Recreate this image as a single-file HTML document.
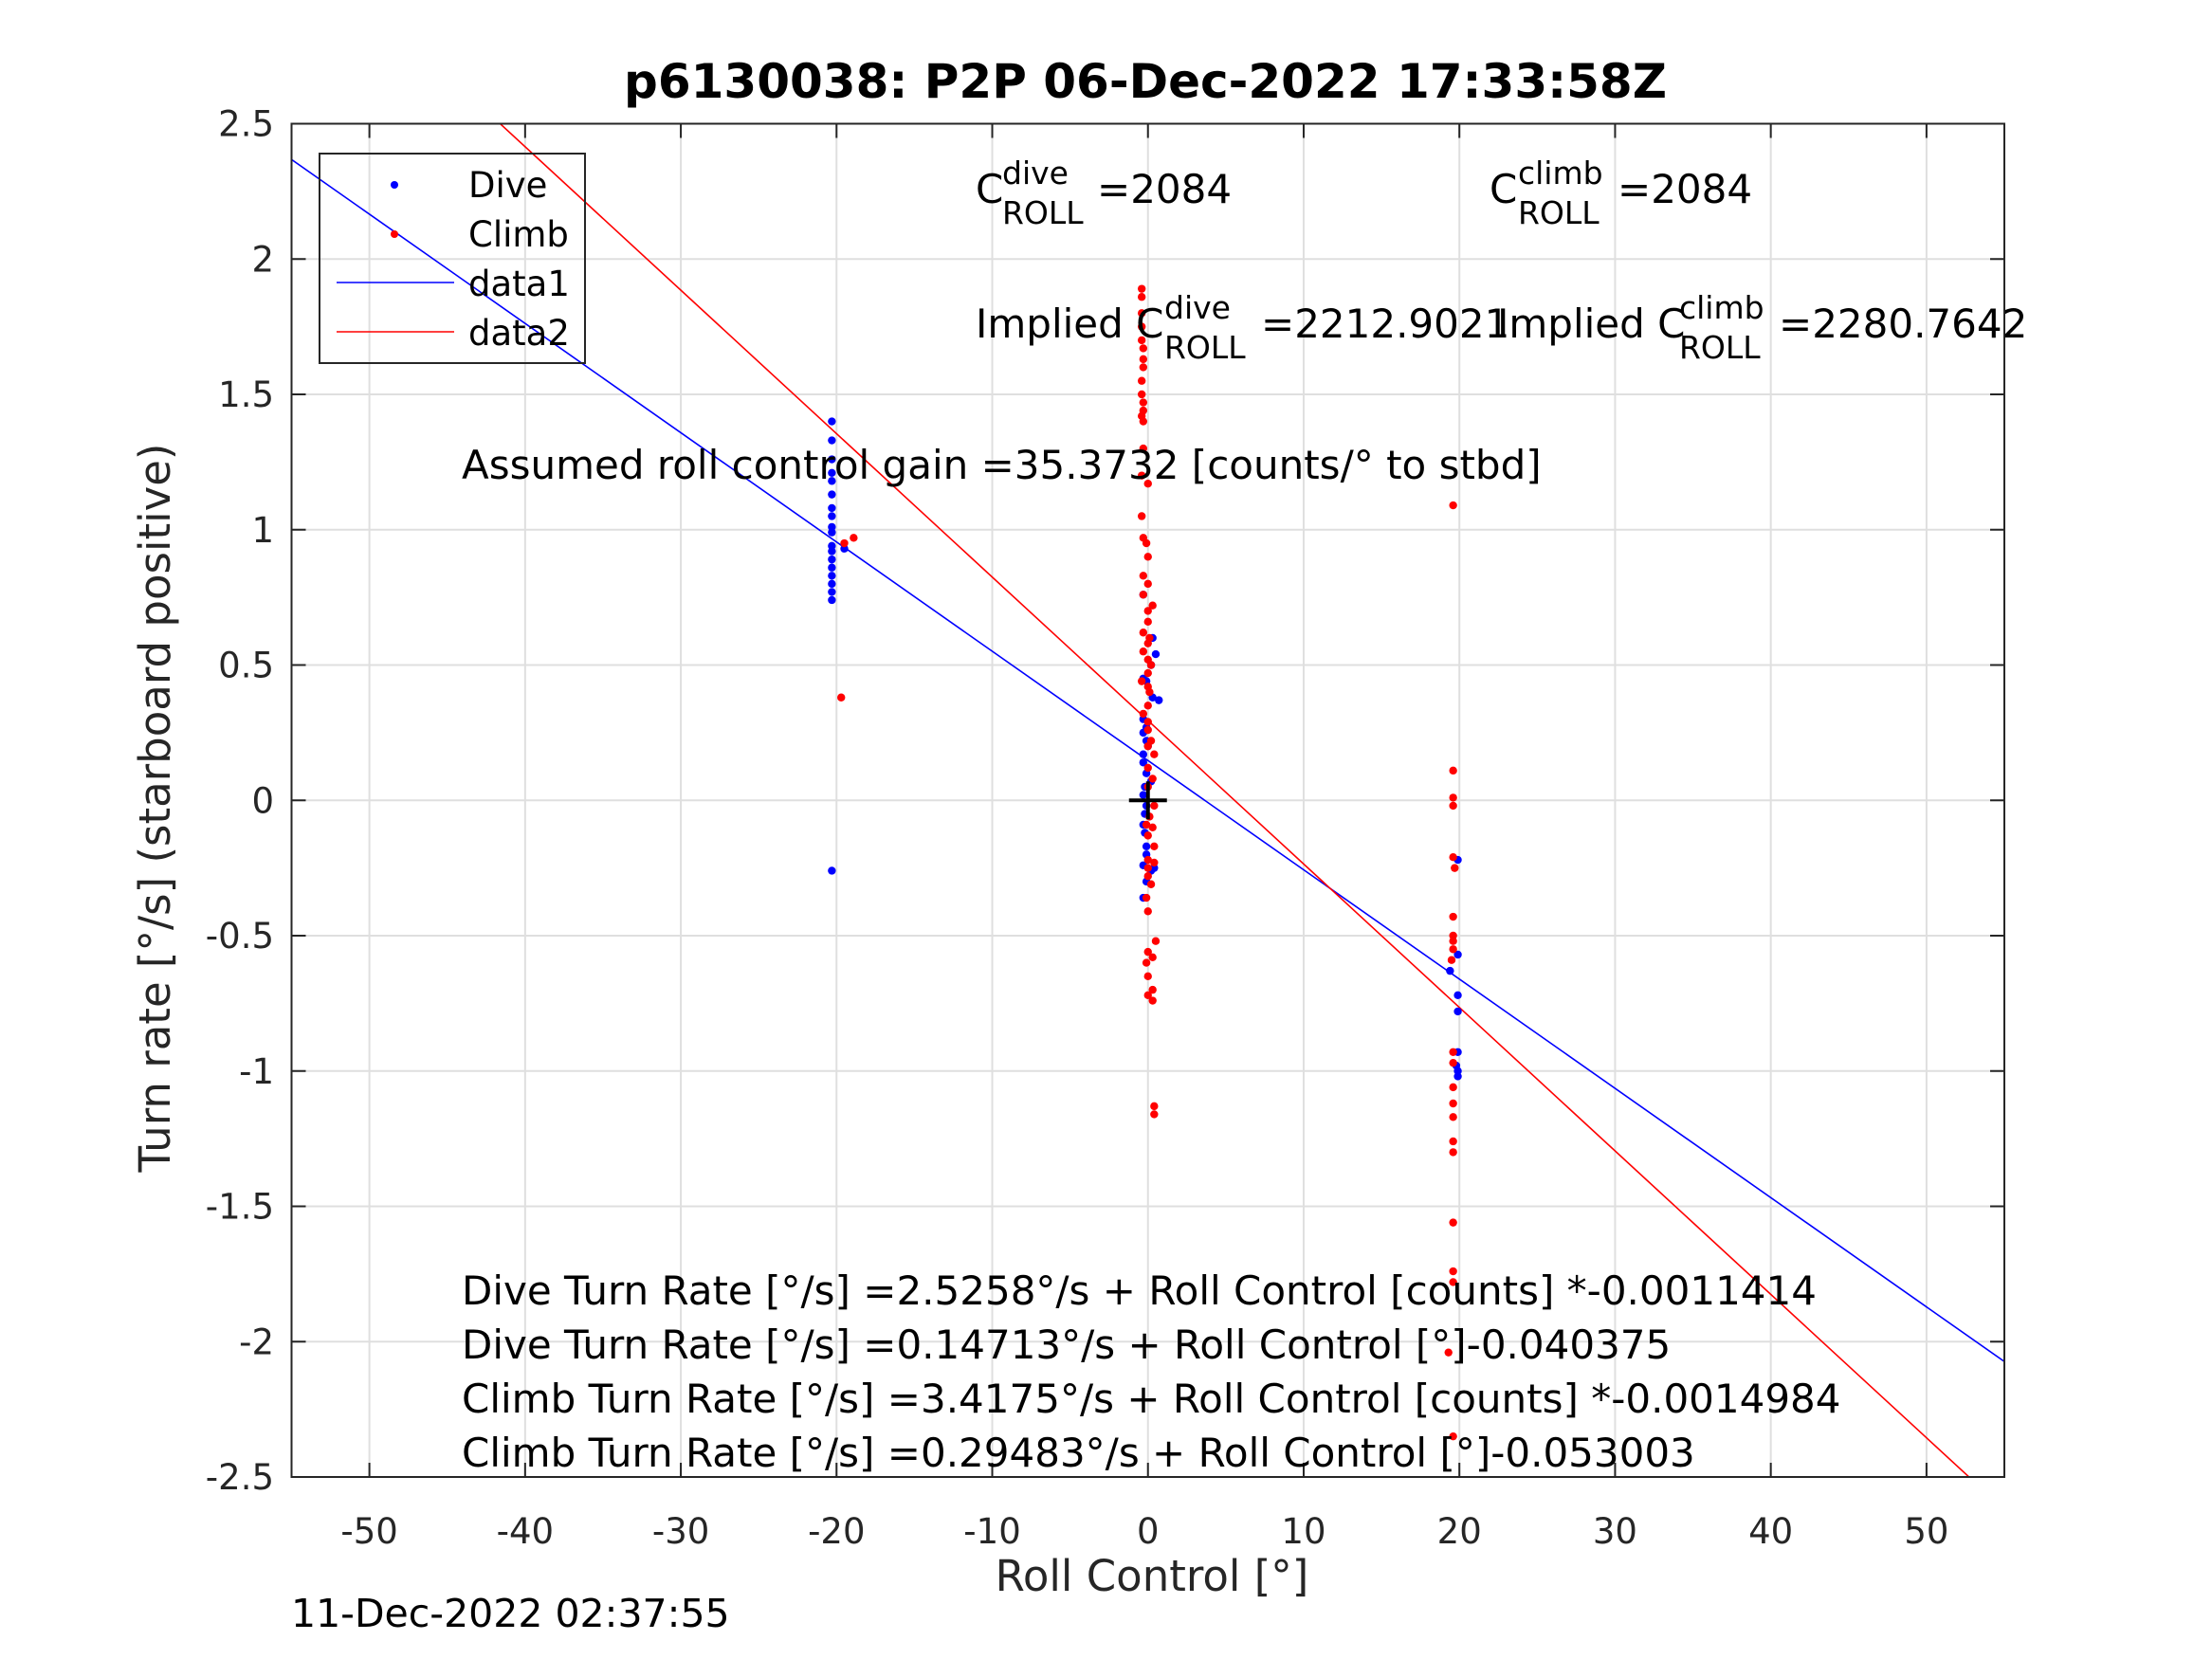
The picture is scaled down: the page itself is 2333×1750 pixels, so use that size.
<!DOCTYPE html>
<html><head><meta charset="utf-8"><style>
html,body{margin:0;padding:0;background:#fff}
svg{display:block;font-family:"DejaVu Sans","Liberation Sans",sans-serif}
</style></head><body>
<svg id="chart" width="2333" height="1750" viewBox="0 0 2333 1750" xmlns="http://www.w3.org/2000/svg">
<rect width="2333" height="1750" fill="#fff"/>
<rect x="307.5" y="130.5" width="1806.5" height="1427.5" fill="#fff"/>
<g id="grid"></g>
<g id="lines"></g>
<g id="pts"></g>
<g id="axes"></g>
<text x="1208" y="103" font-size="50" font-weight="bold" text-anchor="middle">p6130038: P2P 06-Dec-2022 17:33:58Z</text>
<text x="1215" y="1678" font-size="45" text-anchor="middle" fill="#262626">Roll Control [°]</text>
<text transform="translate(179,852) rotate(-90)" font-size="45" text-anchor="middle" fill="#262626">Turn rate [°/s] (starboard positive)</text>
<text x="307" y="1716" font-size="41">11-Dec-2022 02:37:55</text>
<g font-size="42">
<text x="1029" y="214">C</text><text x="1057" y="194" font-size="33">dive</text><text x="1057" y="236" font-size="33">ROLL</text><text x="1157" y="214">=2084</text>
<text x="1571" y="214">C</text><text x="1601" y="194" font-size="33">climb</text><text x="1601" y="236" font-size="33">ROLL</text><text x="1706" y="214">=2084</text>
<text x="1029" y="356">Implied C</text><text x="1228" y="336" font-size="33">dive</text><text x="1228" y="378" font-size="33">ROLL</text><text x="1330" y="356">=2212.9021</text>
<text x="1579" y="356">Implied C</text><text x="1771" y="336" font-size="33">climb</text><text x="1771" y="378" font-size="33">ROLL</text><text x="1876" y="356">=2280.7642</text>
<text x="487" y="505">Assumed roll control gain =35.3732 [counts/° to stbd]</text>
<text x="487" y="1376">Dive Turn Rate [°/s] =2.5258°/s + Roll Control [counts] *-0.0011414</text>
<text x="487" y="1433">Dive Turn Rate [°/s] =0.14713°/s + Roll Control [°]-0.040375</text>
<text x="487" y="1490">Climb Turn Rate [°/s] =3.4175°/s + Roll Control [counts] *-0.0014984</text>
<text x="487" y="1547">Climb Turn Rate [°/s] =0.29483°/s + Roll Control [°]-0.053003</text>
</g>
<g>
<rect x="337" y="162" width="280" height="221" fill="none" stroke="#262626" stroke-width="2"/>
<circle cx="416" cy="195" r="4" fill="#00f"/>
<circle cx="416" cy="247" r="4" fill="#f00"/>
<line x1="355" y1="298" x2="479" y2="298" stroke="#00f" stroke-width="1.5"/>
<line x1="355" y1="350" x2="479" y2="350" stroke="#f00" stroke-width="1.5"/>
<g font-size="37"><text x="494" y="208">Dive</text><text x="494" y="260">Climb</text><text x="494" y="312">data1</text><text x="494" y="364">data2</text></g>
</g>
</svg>
<script>
const xTicks=[-50,-40,-30,-20,-10,0,10,20,30,40,50];
const yTicks=[-2.5,-2,-1.5,-1,-0.5,0,0.5,1,1.5,2,2.5];
const yTickLabels=["-2.5","-2","-1.5","-1","-0.5","0","0.5","1","1.5","2","2.5"];
const diveX=[-20.3,-20.3,-20.3,-20.3,-20.3,-20.3,-20.3,-20.3,-20.3,-20.3,-20.3,-20.3,-20.3,-20.3,-20.3,-20.3,-20.3,-20.3,-20.3,-19.5,
-0.3,0.5,0.3,0.2,-0.3,-0.1,0.3,0.7,-0.3,-0.1,-0.3,-0.1,0.0,-0.3,-0.3,-0.1,0.2,-0.2,-0.3,-0.1,-0.2,-0.3,-0.2,-0.1,-0.1,-0.3,0.2,0.4,-0.1,-0.3,
19.9,19.9,19.4,19.9,19.9,19.9,19.8,19.9,19.9];
const diveY=[1.40,1.33,1.26,1.21,1.18,1.13,1.08,1.05,1.01,0.99,0.94,0.92,0.89,0.86,0.83,0.80,0.77,0.74,-0.26,0.93,
0.76,0.54,0.60,0.50,0.45,0.44,0.38,0.37,0.30,0.27,0.25,0.22,0.20,0.17,0.14,0.10,0.07,0.05,0.02,-0.02,-0.05,-0.09,-0.12,-0.17,-0.20,-0.24,-0.26,-0.25,-0.30,-0.36,
-0.22,-0.57,-0.63,-0.72,-0.78,-0.93,-0.98,-1.00,-1.02];
const climbX=[-19.5,-18.9,-19.7,
-0.4,-0.4,-0.4,-0.4,-0.4,-0.3,-0.3,-0.3,-0.4,-0.4,-0.3,-0.3,-0.4,-0.3,-0.3,-0.4,0.0,-0.4,-0.3,-0.1,0.0,-0.3,0.0,-0.3,0.0,0.3,0.0,-0.3,0.0,0.1,-0.3,0.0,0.2,0.0,-0.4,0.0,0.1,0.0,-0.3,0.0,0.0,0.2,0.0,0.4,0.0,0.3,0.0,0.4,0.1,-0.1,0.3,0.0,0.4,0.0,0.0,0.4,0.0,0.2,-0.1,0.0,0.5,0.0,0.3,-0.1,0.0,0.3,0.0,0.3,0.4,0.4,
19.6,19.6,19.6,19.6,19.6,19.7,19.6,19.6,19.6,19.6,19.5,19.6,19.6,19.6,19.6,19.6,19.6,19.6,19.6,19.6,19.6,19.3,19.6];
const climbY=[0.95,0.97,0.38,
1.89,1.86,1.80,1.75,1.70,1.67,1.63,1.60,1.55,1.50,1.47,1.44,1.42,1.40,1.30,1.20,1.17,1.05,0.97,0.95,0.90,0.83,0.80,0.76,0.70,0.72,0.66,0.62,0.58,0.60,0.55,0.52,0.50,0.47,0.44,0.42,0.40,0.35,0.32,0.29,0.26,0.22,0.20,0.17,0.12,0.08,0.05,-0.02,-0.06,-0.09,-0.10,-0.13,-0.17,-0.22,-0.25,-0.23,-0.28,-0.31,-0.36,-0.41,-0.52,-0.56,-0.58,-0.60,-0.65,-0.70,-0.72,-0.74,-1.13,-1.16,
1.09,0.11,0.01,-0.02,-0.21,-0.25,-0.43,-0.50,-0.52,-0.55,-0.59,-0.93,-0.97,-1.06,-1.12,-1.17,-1.26,-1.30,-1.56,-1.74,-1.78,-2.04,-2.35];
const diveFit=[0.14713,-0.040375];
const climbFit=[0.29483,-0.053003];
const L=307.5,R=2114,T=130.5,B=1558,X0=-55,X1=55,Y0=-2.5,Y1=2.5;
const sx=v=>L+(v-X0)/(X1-X0)*(R-L);
const sy=v=>B-(v-Y0)/(Y1-Y0)*(B-T);
const NS="http://www.w3.org/2000/svg";
function mk(tag,attrs,parent){const e=document.createElementNS(NS,tag);for(const k in attrs)e.setAttribute(k,attrs[k]);parent.appendChild(e);return e;}
const grid=document.getElementById('grid'),axes=document.getElementById('axes'),lines=document.getElementById('lines'),pts=document.getElementById('pts');
xTicks.forEach(t=>{
 const g=mk('line',{x1:sx(t),x2:sx(t),y1:T,y2:B,stroke:'#dfdfdf','stroke-width':2},grid);
 
 
 mk('line',{x1:sx(t),x2:sx(t),y1:B,y2:B-15,stroke:'#262626','stroke-width':2},axes);
 mk('line',{x1:sx(t),x2:sx(t),y1:T,y2:T+15,stroke:'#262626','stroke-width':2},axes);
 const tx=mk('text',{x:sx(t),y:1628,'font-size':37,'text-anchor':'middle',fill:'#262626'},axes);
 tx.textContent=String(t);
 
 
});
yTicks.forEach((t,i)=>{
 const g=mk('line',{x1:L,x2:R,y1:sy(t),y2:sy(t),stroke:'#dfdfdf','stroke-width':2},grid);
 
 
 mk('line',{x1:L,x2:L+15,y1:sy(t),y2:sy(t),stroke:'#262626','stroke-width':2},axes);
 mk('line',{x1:R,x2:R-15,y1:sy(t),y2:sy(t),stroke:'#262626','stroke-width':2},axes);
 const tx=mk('text',{x:289,y:sy(t)+13,'font-size':37,'text-anchor':'end',fill:'#262626'},axes);
 tx.textContent=yTickLabels[i];
 
 
});
const fr=mk('rect',{x:L,y:T,width:R-L,height:B-T,fill:'none',stroke:'#262626','stroke-width':2},axes);


function fitLine(f,col,name){
 const l=mk('line',{x1:sx(X0),y1:sy(f[0]+f[1]*X0),x2:sx(X1),y2:sy(f[0]+f[1]*X1),stroke:col,'stroke-width':1.6},lines);
 
 
}
const cp=mk('clipPath',{id:'clip'},lines);mk('rect',{x:L,y:T,width:R-L,height:B-T},cp);
lines.setAttribute('clip-path','url(#clip)');
fitLine(diveFit,'#00f','dive-fit-line');
fitLine(climbFit,'#f00','climb-fit-line');
diveX.forEach((x,i)=>{const c=mk('circle',{cx:sx(x),cy:sy(diveY[i]),r:4.2,fill:'#00f'},pts);
 
 });
climbX.forEach((x,i)=>{const c=mk('circle',{cx:sx(x),cy:sy(climbY[i]),r:4.2,fill:'#f00'},pts);
 
 });
const p1=mk('line',{x1:sx(0)-20,x2:sx(0)+20,y1:sy(0),y2:sy(0),stroke:'#000','stroke-width':4},pts);


mk('line',{x1:sx(0),x2:sx(0),y1:sy(0)-20,y2:sy(0)+20,stroke:'#000','stroke-width':4},pts);
</script>
</body></html>
